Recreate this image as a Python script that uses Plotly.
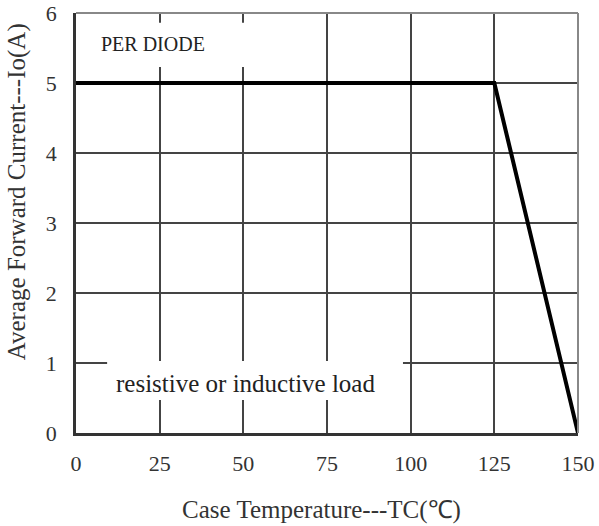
import plotly.graph_objects as go

temps = [0, 125, 150]
current = [5, 5, 0]
x_ticks = [0, 25, 50, 75, 100, 125, 150]
y_ticks = [0, 1, 2, 3, 4, 5, 6]

font_family = "Liberation Serif, Times New Roman, serif"

fig = go.Figure()
fig.add_trace(go.Scatter(x=temps, y=current, mode="lines",
                         line=dict(color="black", width=4), showlegend=False,
                         cliponaxis=False))

# white label boxes that interrupt the grid
fig.add_shape(type="rect", xref="x", yref="y", x0=0.3, x1=54, y0=5.23, y1=5.86,
              fillcolor="white", line=dict(width=0), layer="between")
fig.add_shape(type="rect", xref="x", yref="y", x0=9.3, x1=97.7, y0=0.47, y1=1.03,
              fillcolor="white", line=dict(width=0), layer="between")

# top and right frame lines (lighter)
fig.add_shape(type="line", xref="paper", yref="paper", x0=0, x1=1, y0=1, y1=1,
              line=dict(color="#888888", width=2))
fig.add_shape(type="line", xref="paper", yref="paper", x0=1, x1=1, y0=0, y1=1,
              line=dict(color="#888888", width=2))

fig.add_annotation(x=7, y=5.56, xref="x", yref="y", text="PER DIODE", showarrow=False,
                   xanchor="left", yanchor="middle",
                   font=dict(family=font_family, size=20, color="#222"))
fig.add_annotation(x=50.5, y=0.71, xref="x", yref="y", text="resistive or inductive load",
                   showarrow=False, xanchor="center", yanchor="middle",
                   font=dict(family=font_family, size=25, color="#222"))

fig.add_annotation(x=-0.117, y=0.574, xref="paper", yref="paper",
                   text="Average Forward Current---Io(A)", textangle=-90, showarrow=False,
                   xanchor="center", yanchor="middle", borderpad=0,
                   font=dict(family=font_family, size=25, color="#333"))
fig.add_annotation(x=0.49, y=-0.183, xref="paper", yref="paper",
                   text="Case Temperature---TC(℃)", showarrow=False,
                   xanchor="center", yanchor="middle",
                   font=dict(family=font_family, size=25, color="#333"))

fig.update_xaxes(range=[0, 150], tickvals=x_ticks, ticktext=[str(v) for v in x_ticks],
                 showgrid=True, gridcolor="#444444", gridwidth=1.5,
                 showline=True, linecolor="#333333", linewidth=2.5,
                 ticks="", ticklabelstandoff=9, zeroline=False, automargin=False,
                 ticklabeloverflow="allow",
                 tickfont=dict(family=font_family, size=22, color="#333"))
fig.update_yaxes(range=[0, 6], tickvals=y_ticks, ticktext=[str(v) for v in y_ticks],
                 showgrid=True, gridcolor="#444444", gridwidth=1.5,
                 showline=True, linecolor="#333333", linewidth=2.5,
                 ticks="", ticklabelstandoff=12, zeroline=False, automargin=False,
                 ticklabeloverflow="allow",
                 tickfont=dict(family=font_family, size=22, color="#333"))

fig.update_layout(width=599, height=526, plot_bgcolor="white", paper_bgcolor="white",
                  margin=dict(l=76, r=21, t=13, b=93))
# remove the browser's default 8px body margin so the figure fills the window
fig.write_html("out.html", config={"displayModeBar": False},
               post_script="document.body.style.margin='0';")
